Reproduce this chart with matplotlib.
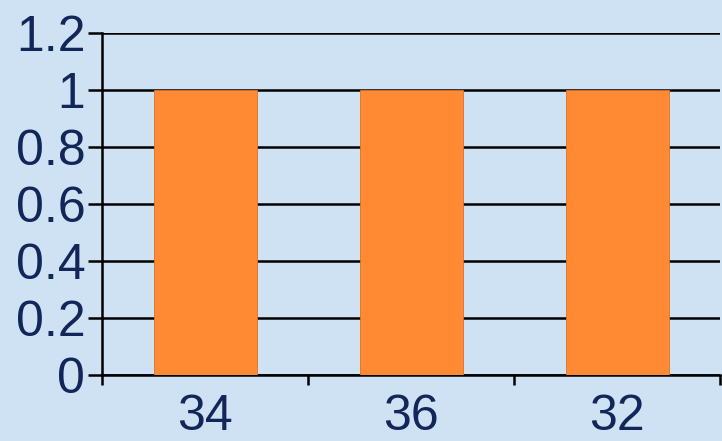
import matplotlib
matplotlib.use("Agg")
import matplotlib.pyplot as plt
from matplotlib.ticker import FixedLocator, NullFormatter

categories = ["34", "36", "32"]
values = [1, 1, 1]
yticks = [0, 0.2, 0.4, 0.6, 0.8, 1, 1.2]
ytick_labels = ["0", "0.2", "0.4", "0.6", "0.8", "1", "1.2"]

bg = "#CFE2F4"
text_color = "#13265A"
bar_color = "#FF8A33"

plt.rcParams['font.family'] = ['Liberation Sans', 'DejaVu Sans']

fig = plt.figure(figsize=(7.22, 4.41), dpi=100)
fig.patch.set_facecolor(bg)
ax = fig.add_axes([102/722, 66/441, 618/722, 342/441])
ax.set_facecolor(bg)

x = list(range(len(categories)))
ax.bar(x, values, width=0.5, color=bar_color, edgecolor="#E07020", linewidth=0.6, zorder=3)

ax.set_xlim(-0.5, len(categories) - 0.5)
ax.set_ylim(0, 1.2)
ax.set_yticks(yticks)
ax.set_yticklabels(ytick_labels)
ax.yaxis.grid(True, color="black", linewidth=1.8, zorder=1)
ax.set_axisbelow(True)

ax.set_xticks(x)
ax.set_xticklabels(categories)
ax.xaxis.set_minor_locator(FixedLocator([i - 0.5 for i in range(len(categories) + 1)]))
ax.xaxis.set_minor_formatter(NullFormatter())
ax.tick_params(axis="x", which="major", length=0, pad=14, labelsize=36, labelcolor=text_color)
ax.tick_params(axis="x", which="minor", length=7, width=1.8, color="black", direction="out")
ax.tick_params(axis="y", length=10, width=1.8, color="black", direction="out", pad=2,
               labelsize=36, labelcolor=text_color)

for s in ["top", "right"]:
    ax.spines[s].set_visible(False)
for s in ["left", "bottom"]:
    ax.spines[s].set_color("black")
    ax.spines[s].set_linewidth(1.8)

fig.savefig("out.png", dpi=100, facecolor=bg)
